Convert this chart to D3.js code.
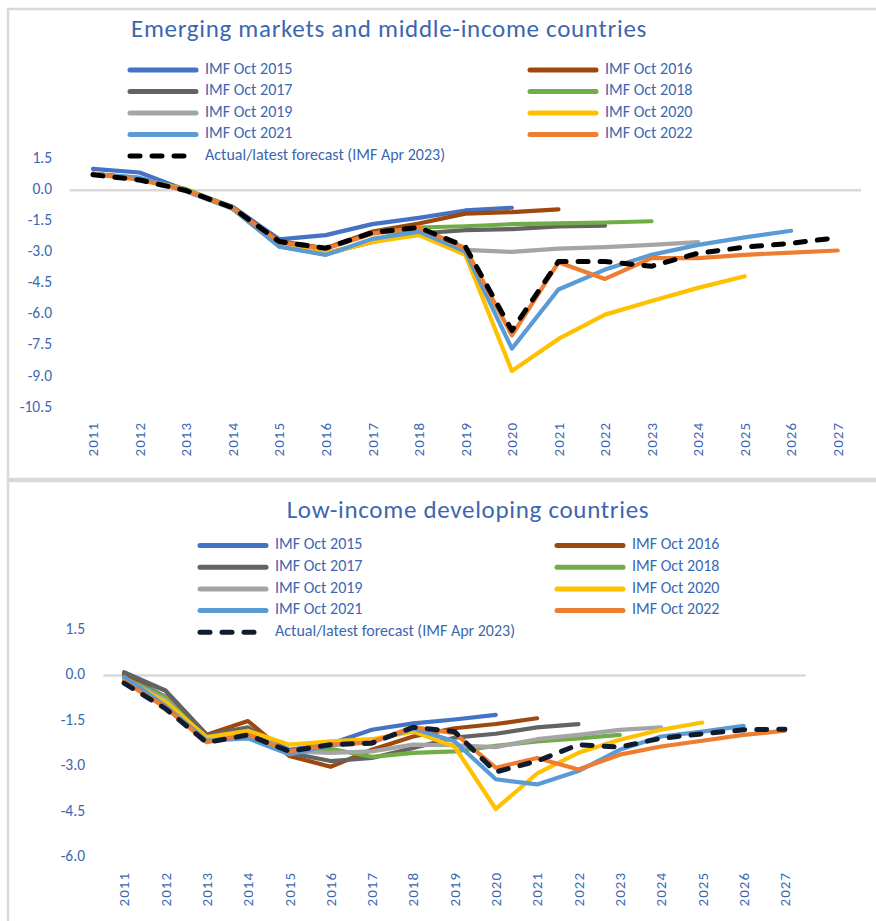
<!DOCTYPE html>
<html>
<head>
<meta charset="utf-8">
<script src="https://cdn.jsdelivr.net/npm/d3@7"></script>
<style>
  body { margin: 0; background: #fff; }
  svg { display: block; }
  text { font-family: Calibri, Carlito, Lato, sans-serif; }
</style>
</head>
<body>
<div id="chart"></div>
<script>
// --- categories / labels ---
const years = ["2011","2012","2013","2014","2015","2016","2017","2018","2019",
               "2020","2021","2022","2023","2024","2025","2026","2027"];
const vintages = ["IMF Oct 2015","IMF Oct 2016","IMF Oct 2017","IMF Oct 2018",
                  "IMF Oct 2019","IMF Oct 2020","IMF Oct 2021","IMF Oct 2022"];
const actualLabel = "Actual/latest forecast (IMF Apr 2023)";
const vintageColors = ["#4472C4","#9E480E","#636363","#70AD47",
                       "#A5A5A5","#FFC000","#5B9BD5","#ED7D31"];

const emTicks = [1.5, 0, -1.5, -3, -4.5, -6, -7.5, -9, -10.5];
const licTicks = [1.5, 0, -1.5, -3, -4.5, -6];

// --- Emerging markets and middle-income countries (each series starts in 2011) ---
const em2015 = [1.02, 0.85, 0.0, -0.8, -2.37, -2.17, -1.64, -1.34, -0.98, -0.85];
const em2016 = [0.78, 0.55, 0.0, -0.85, -2.45, -2.8, -2.0, -1.61, -1.13, -1.06, -0.93];
const em2017 = [0.78, 0.55, 0.0, -0.88, -2.65, -3.05, -2.5, -2.09, -1.93, -1.88, -1.75, -1.71];
const em2018 = [0.78, 0.55, 0.05, -0.85, -2.7, -3.1, -2.45, -1.8, -1.74, -1.64, -1.6, -1.56, -1.5];
const em2019 = [0.78, 0.55, 0.0, -0.88, -2.7, -3.1, -2.45, -2.0, -2.88, -2.98, -2.82, -2.75, -2.64, -2.51];
const em2020 = [0.75, 0.55, 0.0, -0.9, -2.7, -3.05, -2.5, -2.17, -3.12, -8.72, -7.17, -6.0, -5.34, -4.71, -4.15];
const em2021 = [0.78, 0.6, -0.05, -0.9, -2.72, -3.12, -2.35, -2.0, -2.96, -7.64, -4.79, -3.83, -3.12, -2.64, -2.28, -1.96];
const em2022 = [0.78, 0.5, -0.02, -0.85, -2.5, -2.82, -2.1, -1.8, -2.8, -7.0, -3.48, -4.28, -3.28, -3.28, -3.12, -3.01, -2.91];
const emActual = [0.74, 0.49, -0.02, -0.85, -2.48, -2.8, -2.05, -1.8, -2.72, -6.77, -3.44, -3.44, -3.67, -3.04, -2.75, -2.56, -2.29];

// --- Low-income developing countries ---
const lic2015 = [0.0, -0.7, -2.0, -1.8, -2.45, -2.25, -1.79, -1.58, -1.45, -1.3];
const lic2016 = [0.05, -0.5, -1.95, -1.5, -2.65, -3.01, -2.45, -2.01, -1.74, -1.6, -1.41];
const lic2017 = [0.11, -0.49, -1.96, -1.71, -2.55, -2.82, -2.72, -2.39, -2.05, -1.92, -1.71, -1.6];
const lic2018 = [-0.08, -0.71, -2.15, -1.85, -2.55, -2.42, -2.68, -2.55, -2.5, -2.32, -2.17, -2.07, -1.96];
const lic2019 = [-0.1, -0.8, -2.1, -1.85, -2.5, -2.55, -2.5, -2.28, -2.3, -2.36, -2.1, -1.96, -1.79, -1.71];
const lic2020 = [-0.15, -0.87, -2.03, -1.82, -2.28, -2.17, -2.1, -1.85, -2.34, -4.4, -3.23, -2.55, -2.12, -1.79, -1.55];
const lic2021 = [-0.05, -1.0, -2.15, -2.07, -2.6, -2.3, -2.2, -1.75, -2.17, -3.42, -3.59, -3.15, -2.45, -2.01, -1.85, -1.66];
const lic2022 = [-0.2, -1.05, -2.2, -1.95, -2.5, -2.28, -2.2, -1.7, -1.9, -3.04, -2.72, -3.1, -2.61, -2.34, -2.15, -1.96, -1.82];
const licActual = [-0.25, -1.09, -2.21, -1.96, -2.5, -2.28, -2.23, -1.71, -1.85, -3.18, -2.82, -2.28, -2.36, -2.07, -1.92, -1.79, -1.77];

const W = 876, H = 921;
const textColor = "#3B67B0";

const svg = d3.select("#chart").append("svg")
    .attr("width", W)
    .attr("height", H);

// draws one chart panel (frame, title, legend, axes, lines)
function drawPanel(p) {
    const g = svg.append("g");

    // chart frame
    g.append("rect")
        .attr("x", p.frame[0]).attr("y", p.frame[1])
        .attr("width", p.frame[2]).attr("height", p.frame[3])
        .attr("fill", "#fff")
        .attr("stroke", "#D9D9D9")
        .attr("stroke-width", 2.5);

    // title
    g.append("text")
        .attr("x", p.titleX).attr("y", p.titleY)
        .attr("text-anchor", "middle")
        .attr("dominant-baseline", "middle")
        .attr("font-size", 25)
        .attr("letter-spacing", 0.7)
        .attr("fill", textColor)
        .text(p.title);

    const x = d3.scaleBand().domain(years).range([p.left, p.right]);
    const y = d3.scaleLinear().domain([p.ticks[p.ticks.length - 1], p.ticks[0]])
        .range([p.bottom, p.top]);
    const cx = d => x(d) + x.bandwidth() / 2;

    // zero line
    g.append("line")
        .attr("x1", p.left).attr("x2", p.right)
        .attr("y1", y(0)).attr("y2", y(0))
        .attr("stroke", "#D9D9D9")
        .attr("stroke-width", 2.5);

    // y tick labels
    g.selectAll("text.ytick").data(p.ticks).join("text")
        .attr("class", "ytick")
        .attr("x", p.yLabelX)
        .attr("y", d => y(d))
        .attr("text-anchor", "end")
        .attr("dominant-baseline", "middle")
        .attr("font-size", 15.5)
        .attr("fill", textColor)
        .text(d => d3.format(".1f")(d).replace("−", "-"));

    // x tick labels (rotated)
    g.selectAll("text.xtick").data(years).join("text")
        .attr("class", "xtick")
        .attr("transform", d => `translate(${cx(d)},${p.xLabelY}) rotate(-90)`)
        .attr("text-anchor", "end")
        .attr("dy", "0.35em")
        .attr("font-size", 15)
        .attr("letter-spacing", 1)
        .attr("fill", textColor)
        .text(d => d);

    const line = d3.line()
        .x((d, i) => cx(years[i]))
        .y(d => y(d))
        .curve(d3.curveLinear);

    // forecast vintages, drawn in order so later ones sit on top
    p.series.forEach((s, i) => {
        g.append("path")
            .attr("d", line(s))
            .attr("fill", "none")
            .attr("stroke", vintageColors[i])
            .attr("stroke-width", 4.2)
            .attr("stroke-linejoin", "round")
            .attr("stroke-linecap", "round");
    });

    // actual / latest forecast (dashed)
    g.append("path")
        .attr("d", line(p.actual))
        .attr("fill", "none")
        .attr("stroke", p.actualColor)
        .attr("stroke-width", 5)
        .attr("stroke-dasharray", "10,12")
        .attr("stroke-linejoin", "round")
        .attr("stroke-linecap", "round");

    // --- legend ---
    const legendItems = vintages.map((v, i) => ({
        label: v, color: vintageColors[i], dashed: false,
        col: i % 2, row: Math.floor(i / 2)
    }));
    legendItems.push({ label: actualLabel, color: p.actualColor, dashed: true, col: 0, row: 4 });

    const leg = g.append("g").selectAll("g").data(legendItems).join("g")
        .attr("transform", d => `translate(${p.legendX[d.col]},${p.legendY + d.row * p.legendStep})`);

    leg.append("line")
        .attr("x1", 2).attr("x2", 68)
        .attr("y1", 0).attr("y2", 0)
        .attr("stroke", d => d.color)
        .attr("stroke-width", 5)
        .attr("stroke-linecap", "round")
        .attr("stroke-dasharray", d => d.dashed ? "10,12" : null);

    leg.append("text")
        .attr("x", 77)
        .attr("y", 0)
        .attr("dominant-baseline", "middle")
        .attr("font-size", 16)
        .attr("fill", textColor)
        .text(d => d.label);
}

drawPanel({
    frame: [8, 9, 880, 470],
    title: "Emerging markets and middle-income countries",
    titleX: 389, titleY: 31,
    left: 69.7, right: 861, top: 159, bottom: 408,
    ticks: emTicks, yLabelX: 52, xLabelY: 422,
    legendX: [128, 528], legendY: 70, legendStep: 21.5,
    series: [em2015, em2016, em2017, em2018, em2019, em2020, em2021, em2022],
    actual: emActual, actualColor: "#000000"
});

drawPanel({
    frame: [8, 481, 880, 460],
    title: "Low-income developing countries",
    titleX: 468, titleY: 512,
    left: 103.4, right: 805.6, top: 630, bottom: 857.5,
    ticks: licTicks, yLabelX: 85, xLabelY: 872,
    legendX: [198, 555], legendY: 545.5, legendStep: 21.7,
    series: [lic2015, lic2016, lic2017, lic2018, lic2019, lic2020, lic2021, lic2022],
    actual: licActual, actualColor: "#101B2E"
});
</script>
</body>
</html>
